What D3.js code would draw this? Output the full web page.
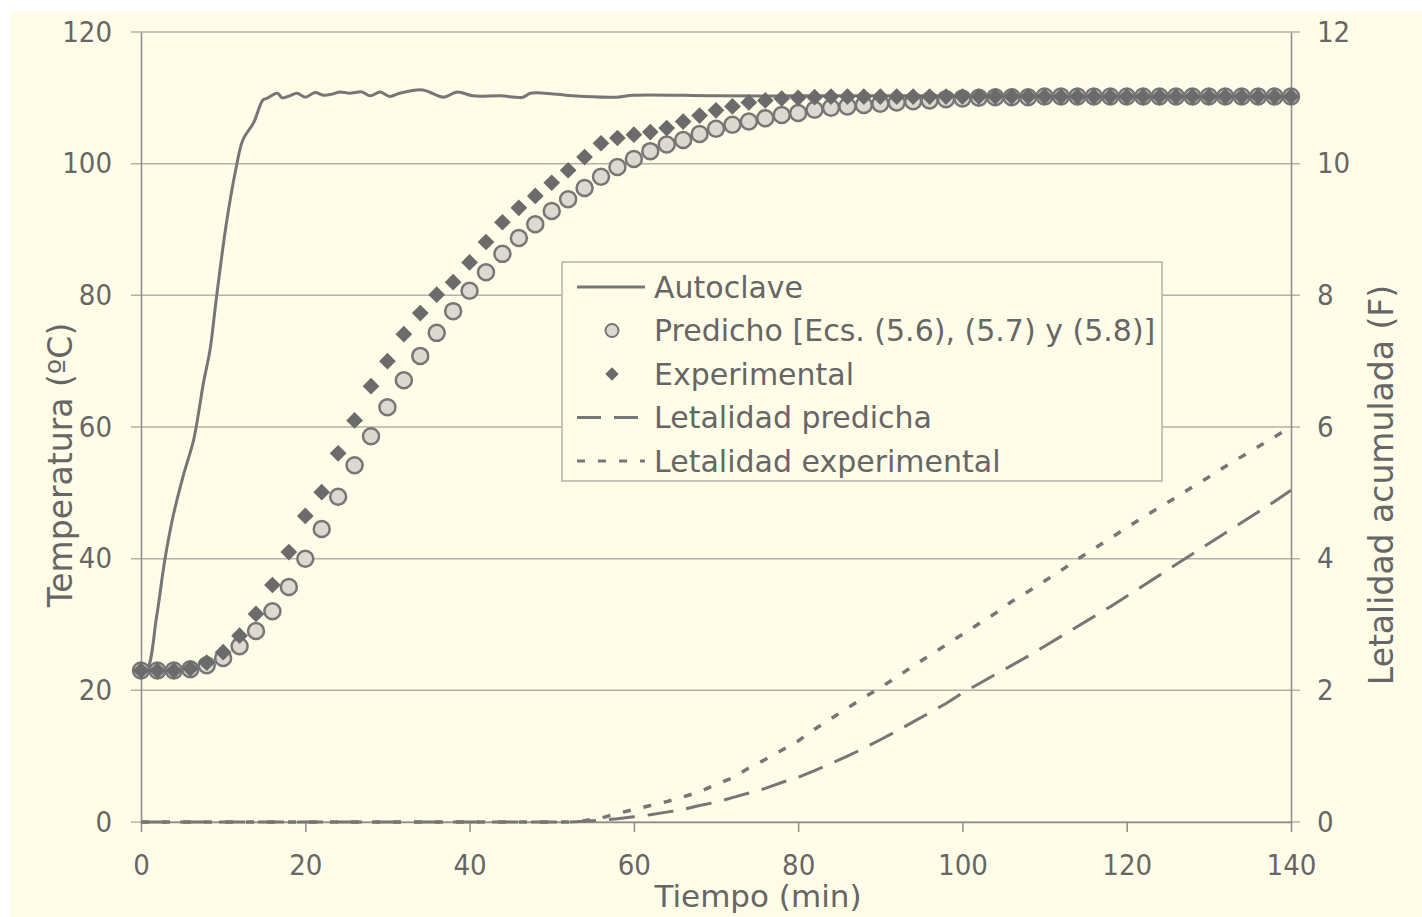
<!DOCTYPE html>
<html>
<head>
<meta charset="utf-8">
<script src="https://cdn.jsdelivr.net/npm/d3@7"></script>
<style>
  body { margin: 0; background: #fff; }
  text { font-family: "DejaVu Sans", sans-serif; fill: #666; }
</style>
</head>
<body>
<svg id="chart" width="1422" height="917"></svg>
<script>
// tiempo de los puntos (min)
var tiempos = d3.range(0, 141, 2);

// temperatura predicha (circulos)
var predicho = [23, 23, 23, 23.2, 23.8, 24.9, 26.7, 29, 32, 35.7,
  40, 44.5, 49.4, 54.2, 58.6, 63, 67.1, 70.8, 74.3, 77.6,
  80.7, 83.5, 86.3, 88.7, 90.8, 92.8, 94.6, 96.3, 98, 99.5,
  100.7, 101.9, 102.9, 103.6, 104.5, 105.3, 105.9, 106.4, 106.9, 107.4,
  107.7, 108.2, 108.5, 108.7, 108.9, 109.1, 109.3, 109.5, 109.6, 109.8,
  109.9, 110, 110.1, 110.1, 110.1, 110.2, 110.2, 110.2, 110.2, 110.2,
  110.2, 110.2, 110.2, 110.2, 110.2, 110.2, 110.2, 110.2, 110.2, 110.2, 110.2];

// temperatura experimental (rombos)
var experimental = [23, 23, 23, 23.3, 24.2, 25.8, 28.3, 31.6, 36, 41,
  46.5, 50.1, 56, 61, 66.2, 70, 74.1, 77.3, 80.1, 82,
  85, 88.1, 91.1, 93.3, 95.1, 97.1, 99, 101, 103.1, 103.9,
  104.4, 104.8, 105.4, 106.4, 107.3, 108.1, 108.7, 109.3, 109.6, 109.9,
  110, 110.1, 110.2, 110.2, 110.2, 110.2, 110.2, 110.2, 110.2, 110.2,
  110.2, 110.2, 110.2, 110.2, 110.2, 110.2, 110.2, 110.2, 110.2, 110.2,
  110.2, 110.2, 110.2, 110.2, 110.2, 110.2, 110.2, 110.2, 110.2, 110.2, 110.2];

// autoclave
var autoTiempo = [0, 0.7, 1.9, 2.9, 3.9, 5.1, 6.4, 7, 7.6, 8.4, 9.2, 10.4, 11.6, 12.4, 13.7, 14.85,
  15.3, 16.6, 17.2, 18.1, 19, 20, 21.2, 22.2, 23.4, 24.2, 25.4, 26.9, 27.9, 29.1, 30.3, 31.5,
  34.3, 36.8, 38.5, 40.4, 43.7, 46.5, 47.4, 50.2, 52.6, 57.9, 59.9, 70, 80, 90, 100, 120, 140];
var autoTemp = [23, 23.1, 31.2, 39.8, 46.4, 52.4, 58, 62.1, 66.7, 71.7, 79.8, 91, 99.5, 103.6, 106.2, 109.7,
  109.9, 110.7, 110, 110.3, 110.7, 110.1, 110.8, 110.4, 110.6, 110.9, 110.7, 110.9, 110.3, 110.9, 110.2, 110.7,
  111.2, 110.1, 110.9, 110.3, 110.3, 110.1, 110.7, 110.6, 110.3, 110.1, 110.4, 110.3, 110.3, 110.3, 110.3, 110.3, 110.3];

// letalidad acumulada (F)
var letPredicha = [0, 0, 0, 0, 0, 0, 0, 0, 0, 0,
  0, 0, 0, 0, 0, 0, 0, 0, 0, 0,
  0, 0, 0, 0, 0, 0, 0, 0.01, 0.03, 0.05,
  0.08, 0.11, 0.15, 0.19, 0.25, 0.3, 0.37, 0.44, 0.51, 0.6,
  0.68, 0.78, 0.89, 1.0, 1.12, 1.25, 1.38, 1.52, 1.66, 1.8,
  1.96, 2.1, 2.24, 2.38, 2.52, 2.67, 2.82, 2.97, 3.12, 3.27,
  3.43, 3.59, 3.75, 3.91, 4.07, 4.23, 4.39, 4.55, 4.71, 4.87, 5.04];
var letExperimental = [0, 0, 0, 0, 0, 0, 0, 0, 0, 0,
  0, 0, 0, 0, 0, 0, 0, 0, 0, 0,
  0, 0, 0, 0, 0, 0, 0, 0.02, 0.06, 0.13,
  0.19, 0.25, 0.31, 0.38, 0.46, 0.57, 0.67, 0.82, 0.95, 1.09,
  1.23, 1.41, 1.57, 1.73, 1.89, 2.04, 2.2, 2.37, 2.53, 2.69,
  2.85, 3.01, 3.17, 3.35, 3.5, 3.66, 3.82, 3.99, 4.15, 4.31,
  4.47, 4.63, 4.78, 4.93, 5.09, 5.24, 5.4, 5.55, 5.7, 5.85, 6.0];

var xTicks = [0, 20, 40, 60, 80, 100, 120, 140];
var yTicks = [0, 20, 40, 60, 80, 100, 120];
var y2Ticks = [0, 2, 4, 6, 8, 10, 12];

var leyenda = ['Autoclave', 'Predicho [Ecs. (5.6), (5.7) y (5.8)]', 'Experimental',
  'Letalidad predicha', 'Letalidad experimental'];

var gris = '#767676';

var svg = d3.select('#chart');

// fondo crema
svg.append('rect')
  .attr('x', 10).attr('y', 12)
  .attr('width', 1412).attr('height', 905)
  .attr('fill', '#fffde8');

var x = d3.scaleLinear().domain([0, 140]).range([141, 1291]);
var y = d3.scaleLinear().domain([0, 120]).range([822, 32]);
var y2 = d3.scaleLinear().domain([0, 12]).range([822, 32]);

// lineas de rejilla
svg.append('g')
  .selectAll('line')
  .data(yTicks)
  .enter()
  .append('line')
  .attr('x1', 131).attr('x2', 1300)
  .attr('y1', d => y(d)).attr('y2', d => y(d))
  .attr('stroke', '#b4b2a6')
  .attr('stroke-width', 1.5);

// ejes
var ejeX = svg.append('g')
  .attr('transform', 'translate(0,822)')
  .call(d3.axisBottom(x).tickValues(xTicks).tickSize(10).tickPadding(21).tickSizeOuter(0));
var ejeY = svg.append('g')
  .attr('transform', 'translate(141,0)')
  .call(d3.axisLeft(y).tickValues(yTicks).tickSize(0).tickPadding(29).tickSizeOuter(0));
var ejeY2 = svg.append('g')
  .attr('transform', 'translate(1291,0)')
  .call(d3.axisRight(y2).tickValues(y2Ticks).tickSize(0).tickPadding(26).tickSizeOuter(0));

[ejeX, ejeY, ejeY2].forEach(function (e) {
  e.select('.domain').attr('stroke', '#8c8c8c').attr('stroke-width', 1.5);
  e.selectAll('.tick line').attr('stroke', '#8c8c8c').attr('stroke-width', 1.5);
  e.selectAll('.tick text')
    .style('font-size', '29px')
    .style('font-family', '"DejaVu Sans Condensed", "DejaVu Sans", sans-serif')
    .attr('fill', '#666');
});
ejeX.selectAll('.tick text').attr('dy', '0.75em');

// titulos
svg.append('text')
  .attr('transform', 'translate(72,465) rotate(-90)')
  .attr('text-anchor', 'middle')
  .style('font-size', '33px')
  .text('Temperatura (ºC)');
svg.append('text')
  .attr('transform', 'translate(1393,485) rotate(-90)')
  .attr('text-anchor', 'middle')
  .style('font-size', '33px')
  .text('Letalidad acumulada (F)');
svg.append('text')
  .attr('x', 758).attr('y', 907)
  .attr('text-anchor', 'middle')
  .style('font-size', '31px')
  .text('Tiempo (min)');

// letalidades
var lineaF = d3.line()
  .x((d, i) => x(tiempos[i]))
  .y(d => y2(d));

svg.append('path')
  .datum(letPredicha)
  .attr('d', lineaF)
  .attr('fill', 'none')
  .attr('stroke', gris)
  .attr('stroke-width', 3)
  .attr('stroke-dasharray', '26,13');

svg.append('path')
  .datum(letExperimental)
  .attr('d', lineaF)
  .attr('fill', 'none')
  .attr('stroke', gris)
  .attr('stroke-width', 3.5)
  .attr('stroke-dasharray', '8,13');

// autoclave
var lineaAuto = d3.line()
  .x((d, i) => x(autoTiempo[i]))
  .y(d => y(d))
  .curve(d3.curveCatmullRom);

svg.append('path')
  .datum(autoTemp)
  .attr('d', lineaAuto)
  .attr('fill', 'none')
  .attr('stroke', gris)
  .attr('stroke-width', 3)
  .attr('stroke-linejoin', 'round');

// puntos predichos
svg.append('g')
  .selectAll('circle')
  .data(predicho)
  .enter()
  .append('circle')
  .attr('cx', (d, i) => x(tiempos[i]))
  .attr('cy', d => y(d))
  .attr('r', 8)
  .attr('fill', '#dcdad0')
  .attr('stroke', gris)
  .attr('stroke-width', 2.5);

// puntos experimentales (cuadrado girado 45 grados)
var rombo = d3.symbol().type(d3.symbolSquare).size(140);
svg.append('g')
  .selectAll('path')
  .data(experimental)
  .enter()
  .append('path')
  .attr('transform', (d, i) => `translate(${x(tiempos[i])},${y(d)}) rotate(45)`)
  .attr('d', rombo)
  .attr('fill', '#6b6b6b');

// leyenda
var ley = svg.append('g').attr('transform', 'translate(562,262)');
ley.append('rect')
  .attr('width', 600).attr('height', 219)
  .attr('fill', '#fffde8')
  .attr('stroke', '#b4b2a6')
  .attr('stroke-width', 1.5);

var filas = ley.selectAll('.fila')
  .data(leyenda)
  .enter()
  .append('g')
  .attr('class', 'fila')
  .attr('transform', (d, i) => `translate(0,${25 + i * 43.5})`);

filas.append('text')
  .attr('x', 92)
  .attr('dy', '0.35em')
  .style('font-size', '30px')
  .text(d => d);

filas.filter((d, i) => i === 0 || i > 2)
  .append('line')
  .attr('x1', 15).attr('x2', 83)
  .attr('stroke', gris)
  .attr('stroke-width', 3)
  .attr('stroke-dasharray', (d, i) => i === 0 ? null : (i === 1 ? '24,13' : '8,13'));

filas.filter((d, i) => i === 1)
  .append('circle')
  .attr('cx', 50).attr('r', 6.5)
  .attr('fill', '#dcdad0')
  .attr('stroke', gris)
  .attr('stroke-width', 2);

filas.filter((d, i) => i === 2)
  .append('path')
  .attr('transform', 'translate(50,0) rotate(45)')
  .attr('d', d3.symbol().type(d3.symbolSquare).size(90))
  .attr('fill', '#6b6b6b');
</script>
</body>
</html>
